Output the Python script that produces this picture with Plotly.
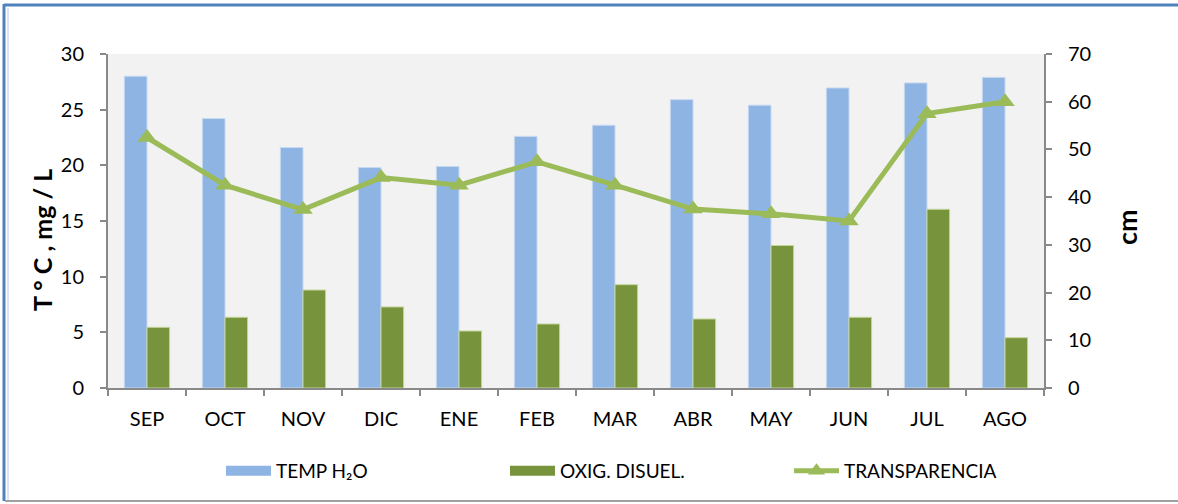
import plotly.graph_objects as go

months = ["SEP", "OCT", "NOV", "DIC", "ENE", "FEB", "MAR", "ABR", "MAY", "JUN", "JUL", "AGO"]
temp_h2o = [28.0, 24.2, 21.6, 19.8, 19.9, 22.6, 23.6, 25.9, 25.4, 26.95, 27.4, 27.9]
oxig_disuel = [5.45, 6.35, 8.8, 7.28, 5.12, 5.75, 9.28, 6.2, 12.8, 6.35, 16.05, 4.52]
transparencia = [52.5, 42.5, 37.4, 44.1, 42.5, 47.4, 42.5, 37.5, 36.5, 35.0, 57.5, 60.0]

left_ticks = [0, 5, 10, 15, 20, 25, 30]
right_ticks = [0, 10, 20, 30, 40, 50, 60, 70]

BLUE = "#8EB4E3"
GREEN = "#77933C"
LGREEN = "#9BBB59"
AXIS = "#898989"
FONT = "Lato, Calibri, sans-serif"

# plot area in pixels
W, H = 1178, 504
L, R, T, B = 108, 1044, 54, 388


def px(x):
    return (x - L) / (R - L)


def py(y):
    return (B - y) / (B - T)


fig = go.Figure()
fig.add_trace(go.Bar(x=months, y=temp_h2o, name="TEMP H₂O", marker=dict(color=BLUE, line=dict(color="#C6D9F1", width=1)),
                     showlegend=False, yaxis="y"))
fig.add_trace(go.Bar(x=months, y=oxig_disuel, name="OXIG. DISUEL.", marker=dict(color=GREEN, line=dict(color="#C3D69B", width=1)),
                     showlegend=False, yaxis="y"))
fig.add_trace(go.Scatter(x=months, y=transparencia, name="TRANSPARENCIA", mode="lines+markers",
                         line=dict(color=LGREEN, width=5),
                         marker=dict(symbol="triangle-up", size=17, color=LGREEN),
                         showlegend=False, yaxis="y2"))

# legend entries
fig.add_trace(go.Scatter(x=[None], y=[None], name="TEMP H₂O", mode="lines",
                         line=dict(color=BLUE, width=14), legendrank=1))
fig.add_trace(go.Scatter(x=[None], y=[None], name="OXIG. DISUEL.", mode="lines",
                         line=dict(color=GREEN, width=14), legendrank=2))
fig.add_trace(go.Scatter(x=[None], y=[None], name="TRANSPARENCIA", mode="lines+markers",
                         line=dict(color=LGREEN, width=5),
                         marker=dict(symbol="triangle-up", size=15, color=LGREEN), legendrank=3, yaxis="y2"))

shapes = [
    dict(type="line", xref="paper", yref="paper", x0=px(4), x1=px(1178), y0=py(5), y1=py(5),
         line=dict(color="#4F81BD", width=3)),
    dict(type="line", xref="paper", yref="paper", x0=px(4), x1=px(4), y0=py(4), y1=py(501),
         line=dict(color="#4F81BD", width=3)),
    dict(type="line", xref="paper", yref="paper", x0=px(8), x1=px(8), y0=py(8), y1=py(500),
         line=dict(color="#B8CCE4", width=1)),
    dict(type="line", xref="paper", yref="paper", x0=px(5), x1=px(1178), y0=py(501), y1=py(501),
         line=dict(color="#A0A0A0", width=2)),
]

annotations = [
    dict(text="<b>T ° C , mg / L</b>", textangle=-90, xref="paper", yref="paper", x=px(42), y=py(240),
         showarrow=False, font=dict(family=FONT, size=25, color="#000000"), xanchor="center", yanchor="middle"),
    dict(text="<b>cm</b>", textangle=-90, xref="paper", yref="paper", x=px(1126), y=py(227),
         showarrow=False, font=dict(family=FONT, size=27, color="#000000"), xanchor="center", yanchor="middle"),
]

fig.update_layout(
    width=W, height=H,
    margin=dict(l=L, r=W - R, t=T, b=H - B),
    paper_bgcolor="white",
    plot_bgcolor="#F2F2F2",
    barmode="group", bargap=0.42, bargroupgap=0,
    font=dict(family=FONT, size=19, color="#000000"),
    xaxis=dict(range=[-0.5, len(months) - 0.5], showline=True, linecolor=AXIS, linewidth=2, ticks="outside",
               ticklen=6, tickcolor=AXIS, tickwidth=2, tickson="boundaries", showgrid=False,
               ticklabelstandoff=12, tickfont=dict(family=FONT, size=20)),
    yaxis=dict(range=[0, 30], tickvals=left_ticks, showline=True, linecolor=AXIS, linewidth=2,
               ticks="outside", ticklen=6, tickcolor=AXIS, tickwidth=2, showgrid=False, zeroline=False,
               ticklabelstandoff=12, tickfont=dict(family=FONT, size=20)),
    yaxis2=dict(range=[0, 70], tickvals=right_ticks, overlaying="y", side="right", showline=True,
                linecolor=AXIS, linewidth=2, ticks="outside", ticklen=6, tickcolor=AXIS, tickwidth=2,
                showgrid=False, zeroline=False, ticklabelstandoff=12, tickfont=dict(family=FONT, size=20)),
    legend=dict(orientation="h", x=px(221), y=py(471), xanchor="left", yanchor="middle",
                entrywidth=224, font=dict(family=FONT, size=19), itemwidth=45,
                bgcolor="rgba(0,0,0,0)"),
    shapes=shapes,
    annotations=annotations,
)

fig.write_html("out.html", config={"displayModeBar": False},
               post_script="document.body.style.margin='0px';document.body.style.overflow='hidden';")
